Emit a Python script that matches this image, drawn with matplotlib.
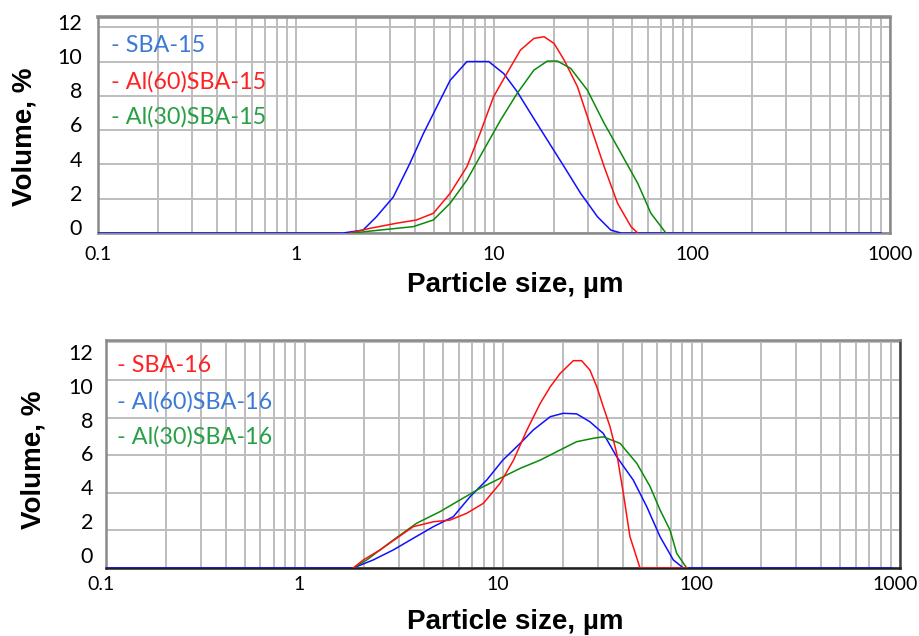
import matplotlib
matplotlib.use("Agg")
import matplotlib.pyplot as plt
import matplotlib.transforms as mtrans
from matplotlib.ticker import LogLocator, NullFormatter, FixedLocator, FixedFormatter

# ---------------- data (particle size in µm, volume in %) ----------------
top_labels = ["- SBA-15", "- Al(60)SBA-15", "- Al(30)SBA-15"]
bot_labels = ["- SBA-16", "- Al(60)SBA-16", "- Al(30)SBA-16"]

sba15_x = [0.1, 1.73, 2.18, 2.55, 3.1, 3.76, 4.4, 5.14, 6.0, 7.3, 9.4, 11.2, 13.1, 15.3,
           18.6, 22.6, 27.4, 33.3, 38.9, 43.8, 900]
sba15_y = [0, 0, 0.17, 0.95, 2.1, 4.06, 5.8, 7.36, 8.9, 10.0, 10.0, 9.3, 8.24, 6.98,
           5.42, 3.87, 2.31, 0.95, 0.17, 0, 0]

al60_15_x = [1.87, 2.36, 3.22, 4.06, 4.94, 6.0, 7.3, 8.5, 9.95, 11.6, 13.6, 15.9, 17.9,
             20.1, 22.6, 26.4, 30.8, 36.0, 42.1, 49.2, 53.2]
al60_15_y = [0, 0.27, 0.57, 0.76, 1.15, 2.31, 3.87, 5.81, 7.95, 9.3, 10.67, 11.35, 11.45,
             11.06, 10.09, 8.53, 6.2, 3.87, 1.73, 0.37, 0]

al30_15_x = [1.94, 2.65, 3.91, 4.94, 6.0, 7.3, 8.87, 10.8, 13.1, 15.9, 18.6, 20.9, 24.4,
             29.6, 36.0, 43.8, 53.2, 62.0, 73.8]
al30_15_y = [0, 0.17, 0.37, 0.76, 1.73, 3.09, 4.84, 6.59, 8.15, 9.5, 10.03, 10.03, 9.6,
             8.34, 6.4, 4.65, 2.9, 1.15, 0]

sba16_x = [1.76, 1.98, 2.4, 2.91, 3.53, 4.46, 5.41, 6.56, 7.96, 9.66, 11.3, 13.2, 15.4,
           17.3, 19.4, 22.6, 24.9, 27.4, 29.7, 32.0, 34.6, 37.4, 40.4, 43.6, 49.0, 85.0]
sba16_y = [0, 0.43, 0.96, 1.58, 2.2, 2.46, 2.55, 2.91, 3.44, 4.5, 5.74, 7.34, 8.76,
           9.64, 10.35, 11.03, 11.03, 10.53, 9.64, 8.58, 7.52, 6.1, 3.97, 1.67, 0, 0]

al60_16_x = [0.1, 1.76, 2.22, 2.8, 3.53, 4.46, 5.62, 6.82, 8.28, 9.98, 12.2, 14.2, 17.3,
             20.1, 23.5, 27.4, 32.0, 37.4, 45.3, 53.0, 61.8, 72.1, 81.0, 908]
al60_16_y = [0, 0, 0.43, 0.96, 1.58, 2.2, 2.73, 3.79, 4.68, 5.74, 6.63, 7.34, 8.05,
             8.23, 8.2, 7.78, 7.16, 5.92, 4.68, 3.26, 1.67, 0.43, 0, 0]

al30_16_x = [1.76, 2.06, 2.8, 3.67, 4.82, 6.07, 7.66, 9.66, 12.2, 15.4, 19.4, 23.5, 28.5,
             32.0, 38.9, 47.2, 55.1, 61.8, 69.4, 75.0, 84.2]
al30_16_y = [0, 0.43, 1.49, 2.38, 3.0, 3.62, 4.24, 4.77, 5.3, 5.74, 6.28, 6.72, 6.9,
             6.98, 6.63, 5.57, 4.33, 3.09, 2.02, 0.78, 0]

x_ticks = [0.1, 1, 10, 100, 1000]
x_ticklabels = ["0.1", "1", "10", "100", "1000"]
y_ticks = [0, 2, 4, 6, 8, 10, 12]

# ---------------- style ----------------
LINE_BLUE, LINE_RED, LINE_GREEN = "#1010ff", "#ff1010", "#0a8a0a"
TXT_BLUE, TXT_RED, TXT_GREEN = "#3a7ad6", "#ff2222", "#27a046"
GRID = "#bdbdbd"
TICK_FONT = ["Lato", "DejaVu Sans"]
TITLE_FONT = ["Liberation Sans", "DejaVu Sans"]

fig = plt.figure(figsize=(9.19, 6.36), dpi=100)
ax1 = fig.add_axes([98 / 919, 1 - 233 / 636, 792 / 919, 216 / 636])
ax2 = fig.add_axes([106 / 919, 1 - 568 / 636, 794 / 919, 228 / 636])


def style_axes(ax, ytop, label_lims, ypad, xpad, xshift, leg_items, leg_pos, ylab_pos, xlab_pos):
    ax.set_xscale("log")
    ax.set_xlim(0.1, 1000)
    ax.set_ylim(0, ytop)
    ax.xaxis.set_major_locator(FixedLocator(x_ticks))
    ax.xaxis.set_major_formatter(FixedFormatter(x_ticklabels))
    ax.xaxis.set_minor_locator(LogLocator(base=10, subs=range(2, 10), numticks=20))
    ax.xaxis.set_minor_formatter(NullFormatter())
    ax.set_yticks(y_ticks)
    ax.tick_params(axis="y", which="both", length=0, labelleft=False)
    ax.tick_params(axis="x", which="both", length=0, pad=xpad, labelsize=14)
    off = mtrans.ScaledTranslation(xshift / 100, 0, fig.dpi_scale_trans)
    for t in ax.get_xticklabels():
        t.set_fontfamily(TICK_FONT)
        t.set_transform(t.get_transform() + off)
    ax.grid(True, which="both", axis="x", color=GRID, lw=1.4)
    ax.grid(True, which="major", axis="y", color=GRID, lw=1.4)
    ax.set_axisbelow(True)
    for s in ax.spines.values():
        s.set_color("#8a8a8a")
        s.set_linewidth(1.8)
    # y tick labels on a helper axis (label positions as in the reference)
    lab = ax.twinx()
    lab.set_ylim(*label_lims)
    lab.set_yticks(y_ticks)
    lab.yaxis.tick_left()
    lab.tick_params(axis="y", length=0, pad=ypad, labelsize=15.5)
    for t in lab.get_yticklabels():
        t.set_fontfamily(TICK_FONT)
    for s in lab.spines.values():
        s.set_visible(False)
    # legend as coloured text
    for (txt, col), yy in zip(leg_items, leg_pos[1]):
        ax.text(leg_pos[0], yy, txt, color=col, transform=ax.transAxes,
                fontsize=16.8, fontfamily=TICK_FONT, va="center", ha="left")
    ax.set_ylabel("Volume, %", fontsize=20, fontweight="bold", fontfamily=TITLE_FONT)
    ax.yaxis.set_label_coords(*ylab_pos)
    ax.yaxis.label.set_va("center")
    ax.set_xlabel("Particle size, µm", fontsize=20, fontweight="bold", fontfamily=TITLE_FONT)
    ax.xaxis.set_label_coords(*xlab_pos)
    ax.xaxis.label.set_va("center")


# top chart
ax1.plot(sba15_x, sba15_y, color=LINE_BLUE, lw=1.1, zorder=3)
ax1.plot(al60_15_x, al60_15_y, color=LINE_RED, lw=1.1, zorder=4)
ax1.plot(al30_15_x, al30_15_y, color=LINE_GREEN, lw=1.1, zorder=4)
style_axes(ax1, 12.6, (-0.35, 12.29), 11.5, 9, 0,
           list(zip(top_labels, [TXT_BLUE, TXT_RED, TXT_GREEN])),
           (0.017, [0.87, 0.70, 0.537]), (-0.093, 0.444), (0.527, -0.241))
ax1.spines["top"].set_linewidth(2.6)

# bottom chart
ax2.plot(al60_16_x, al60_16_y, color=LINE_BLUE, lw=1.1, zorder=3)
ax2.plot(al30_16_x, al30_16_y, color=LINE_GREEN, lw=1.1, zorder=3)
ax2.plot(sba16_x, sba16_y, color=LINE_RED, lw=1.1, zorder=4)
style_axes(ax2, 12.13, (-0.77, 12.71), 9.4, 5.5, -5,
           list(zip(bot_labels, [TXT_RED, TXT_BLUE, TXT_GREEN])),
           (0.014, [0.886, 0.728, 0.575]), (-0.0907, 0.474), (0.515, -0.237))
ax2.spines["bottom"].set_color("#202020")
ax2.spines["right"].set_color("#404040")

fig.savefig("out.png", dpi=100)
